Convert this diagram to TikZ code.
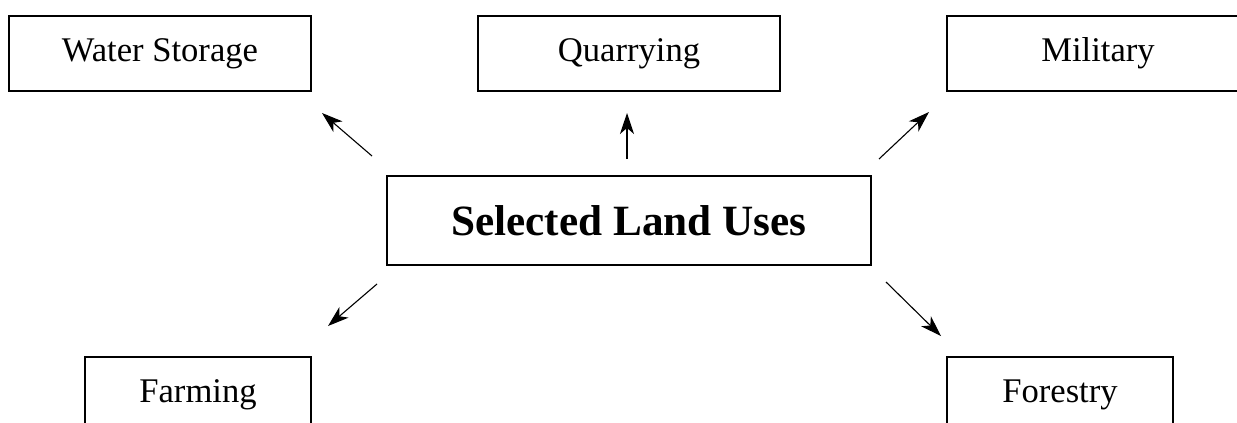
\documentclass[tikz,border=0pt]{standalone}
\usepackage{fontspec}
\setmainfont{Liberation Serif}
\usetikzlibrary{arrows.meta}
\begin{document}
\begin{tikzpicture}[x=0.5pt,y=-0.5pt,
  box/.style={draw, line width=0.8pt, inner sep=0pt, font=\fontsize{17.3pt}{20pt}\selectfont},
  bigbox/.style={box, minimum width=151pt, minimum height=37.5pt},
  smallbox/.style={box, minimum width=113pt, minimum height=37.5pt},
  mainbox/.style={box, minimum width=242pt, minimum height=44.5pt, font=\fontsize{21.6pt}{24pt}\selectfont\bfseries},
  arr/.style={line width=0.55pt, -{Stealth[length=10.5pt,width=7pt,inset=3pt]}}]
\useasboundingbox (0,0) rectangle (1237,423);
\clip (0,0) rectangle (1237,423);
\node[bigbox] (water) at (160,53.5) {Water Storage};
\node[bigbox] (quarry) at (629,53.5) {Quarrying};
\node[bigbox] (military) at (1098,53.5) {Military};
\node[mainbox] (main) at (629,220.5) {Selected Land Uses};
\node[smallbox] (farming) at (198,394.5) {Farming};
\node[smallbox] (forestry) at (1060,394.5) {Forestry};
\coordinate (w1) at (372,156); \coordinate (w2) at (322,113);
\coordinate (q1) at (627,159); \coordinate (q2) at (627,113);
\coordinate (m1) at (879,159); \coordinate (m2) at (929,112);
\coordinate (f1) at (377,284); \coordinate (f2) at (328,326);
\coordinate (o1) at (886,282); \coordinate (o2) at (941,336);
\draw[arr] (w1) -- (w2);
\draw[arr] (q1) -- (q2);
\draw[arr] (m1) -- (m2);
\draw[arr] (f1) -- (f2);
\draw[arr] (o1) -- (o2);
\end{tikzpicture}
\end{document}
